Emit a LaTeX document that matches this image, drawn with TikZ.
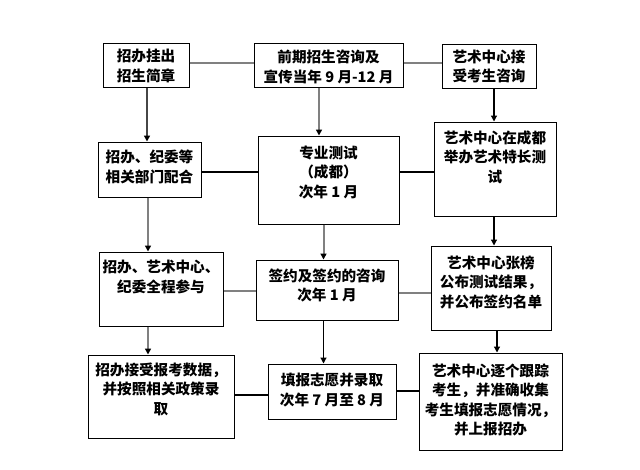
\documentclass[tikz,border=0pt]{standalone}
\usepackage{fontspec}
\newfontfamily\cjk{Noto Sans CJK SC}
\usetikzlibrary{arrows.meta}
\definecolor{lgray}{RGB}{128,128,128}
\definecolor{dgray}{RGB}{70,70,70}
\tikzset{
  box/.style={draw=black, line width=1pt, inner sep=0pt, fill=white},
  txt/.style={align=center, inner sep=0pt, font=\cjk\bfseries\fontsize{14.6}{19.5}\selectfont},
  conn/.style={line width=1.2pt, black},
  gconn/.style={line width=2pt, lgray},
  arr/.style={-{Triangle[length=6pt,width=6pt]}, line width=1.2pt, black},
  garr/.style={-{Triangle[length=6pt,width=6pt,color=black]}, line width=2pt, lgray},
  darr/.style={-{Triangle[length=6pt,width=6pt,color=black]}, line width=1.6pt, dgray},
}
\begin{document}
\begin{tikzpicture}[x=1pt,y=-1pt]
\useasboundingbox[fill=white] (0,0) rectangle (640,469);
% boxes: center, size
\node[box, minimum width=86pt, minimum height=44pt] (A) at (146,65) {};
\node[box, minimum width=149pt, minimum height=44pt] (B) at (328.5,65) {};
\node[box, minimum width=94pt, minimum height=44pt] (C) at (489,66) {};
\node[box, minimum width=103pt, minimum height=55pt] (D) at (149.5,169.5) {};
\node[box, minimum width=141pt, minimum height=88pt] (E) at (328.5,180) {};
\node[box, minimum width=122pt, minimum height=94pt] (F) at (495,169) {};
\node[box, minimum width=124pt, minimum height=74pt] (G) at (161,289) {};
\node[box, minimum width=142pt, minimum height=60pt] (H) at (327,290) {};
\node[box, minimum width=120pt, minimum height=84pt] (I) at (491,288) {};
\node[box, minimum width=146pt, minimum height=83pt] (J) at (161,396.5) {};
\node[box, minimum width=128pt, minimum height=55pt] (K) at (332,391.5) {};
\node[box, minimum width=143pt, minimum height=97pt] (L) at (490.5,401.5) {};
% texts
\node[txt] (tA) at (146,66) {招办挂出\\招生简章};
\node[txt] (tB) at (328.5,67) {前期招生咨询及\\宣传当年 9 月-12 月};
\node[txt] (tC) at (489,66.5) {艺术中心接\\受考生咨询};
\node[txt] (tD) at (149.5,167) {招办、纪委等\\相关部门配合};
\node[txt] (tE) at (328.5,172) {专业测试\\（成都）\\次年 1 月};
\node[txt] (tF) at (495,157) {艺术中心在成都\\举办艺术特长测\\试};
\node[txt] (tG) at (161,277) {招办、艺术中心、\\纪委全程参与};
\node[txt] (tH) at (327,285.5) {签约及签约的咨询\\次年 1 月};
\node[txt] (tI) at (491,282) {艺术中心张榜\\公布测试结果，\\并公布签约名单};
\node[txt] (tJ) at (161,389) {招办接受报考数据，\\并按照相关政策录\\取};
\node[txt] (tK) at (332,390) {填报志愿并录取\\次年 7 月至 8 月};
\node[txt] (tL) at (490.5,400) {艺术中心逐个跟踪\\考生，并准确收集\\考生填报志愿情况，\\并上报招办};
% horizontal connectors
\draw[gconn] (A.east |- 0,63) -- (B.west |- 0,63);
\draw[gconn] (B.east |- 0,63) -- (C.west |- 0,63);
\draw[conn] (D.east |- 0,172) -- (E.west |- 0,172);
\draw[conn] (E.east |- 0,172) -- (F.west |- 0,172);
\draw[gconn] (G.east |- 0,291) -- (H.west |- 0,291);
\draw[gconn] (H.east |- 0,293) -- (I.west |- 0,293);
\draw[conn] (J.east |- 0,395) -- (K.west |- 0,395);
\draw[conn] (K.east |- 0,391) -- (L.west |- 0,391);
% vertical arrows
\draw[darr] (A.south -| 147,0) -- (D.north -| 147,0);
\draw[garr] (B.south -| 319,0) -- (E.north -| 319,0);
\draw[arr] (C.south -| 494,0) -- (F.north -| 494,0);
\draw[garr] (D.south -| 148,0) -- (G.north -| 148,0);
\draw[garr] (E.south -| 323.5,0) -- (H.north -| 323.5,0);
\draw[arr] (F.south -| 494,0) -- (I.north -| 494,0);
\draw[garr] (G.south -| 148,0) -- (J.north -| 148,0);
\draw[arr] (H.south -| 323.5,0) -- (K.north -| 323.5,0);
\draw[arr] (I.south -| 497,0) -- (L.north -| 497,0);
\end{tikzpicture}
\end{document}
